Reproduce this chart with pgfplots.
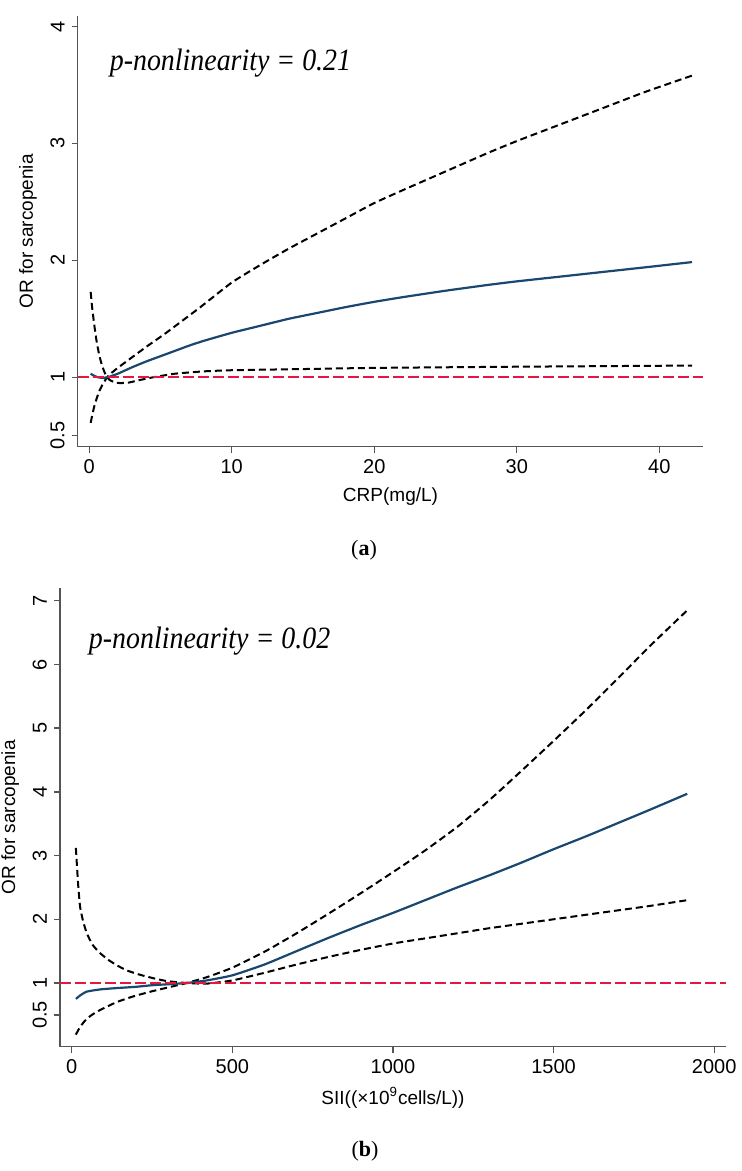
\documentclass[border=0pt]{standalone}
\usepackage{fontspec}
\setmainfont{Liberation Sans}
\newfontfamily\serifrm{Liberation Serif}
\usepackage{pgfplots}
\pgfplotsset{compat=1.18}
\definecolor{navy}{RGB}{26,71,111}
\definecolor{refred}{HTML}{E5173F}
\definecolor{axgray}{HTML}{555555}
\pgfplotsset{rcs/.style={scale only axis,axis lines=left,axis line style={-,axgray,line width=0.7pt},
tick style={axgray,line width=0.7pt},tick align=outside,major tick length=3pt,
yticklabel style={rotate=90,anchor=south},ticklabel style={font=\fontsize{10}{11}\selectfont},
label style={font=\fontsize{9.5}{11}\selectfont},/pgf/number format/assume math mode=true,
/pgf/number format/1000 sep={},clip=false}}
\tikzset{ci/.style={black,line width=1pt,dash pattern=on 3.5pt off 2pt,smooth,tension=0.3},
fit/.style={navy,line width=1.1pt,smooth,tension=0.3},
ref/.style={refred,line width=1pt,dash pattern=on 5.5pt off 2pt},
ptxt/.style={anchor=west,xscale=0.9,font=\serifrm\itshape\fontsize{15.5}{17}\selectfont}}
\begin{document}
\begin{tikzpicture}
\useasboundingbox (-30pt,-62.15pt) rectangle (340.5pt,523.35pt);
% (a) CRP
\begin{axis}[rcs,at={(8.85pt,300pt)},anchor=south west,width=312.8pt,height=215.35pt,
xmin=-0.81,xmax=43.09,ymin=0.406,ymax=4.09,xtick={0,10,20,30,40},ytick={0.5,1,2,3,4},
xlabel={CRP(mg/L)},ylabel={OR for sarcopenia}]
\addplot[ci] coordinates {(0.1,1.73) (0.2,1.60) (0.35,1.45) (0.5,1.32) (0.7,1.19) (0.9,1.10) (1.15,1.02) (1.4,0.98) (1.8,0.955) (2.2,0.95) (2.8,0.955) (3.5,0.975) (4.5,1.0) (6,1.03) (8,1.05) (10,1.06) (15,1.07) (20,1.08) (30,1.09) (42.3,1.10)};
\addplot[ci] coordinates {(0.1,0.61) (0.2,0.67) (0.35,0.75) (0.5,0.81) (0.7,0.88) (0.9,0.93) (1.15,0.98) (1.4,1.02) (2,1.08) (3,1.17) (4,1.26) (5.4,1.38) (7.8,1.60) (10,1.81) (12,1.96) (14,2.10) (16,2.23) (18,2.36) (20,2.49) (22,2.60) (25,2.76) (28,2.92) (30,3.02) (33,3.16) (36,3.30) (39,3.44) (42.3,3.58)};
\addplot[fit] coordinates {(0.1,1.03) (0.3,1.015) (0.6,1.0) (0.9,0.995) (1.3,1.0) (2,1.03) (3,1.085) (4,1.135) (5,1.18) (6,1.225) (7,1.27) (8,1.31) (10,1.38) (12,1.44) (14,1.50) (16,1.55) (18,1.60) (20,1.645) (22,1.685) (25,1.74) (28,1.79) (30,1.82) (33,1.86) (36,1.90) (39,1.94) (42.3,1.985)};
\addplot[ref] coordinates {(-0.81,1) (43.09,1)};
\node[ptxt] at (axis cs:1,3.69) {p-nonlinearity = 0.21};
\end{axis}
% (b) SII
\begin{axis}[rcs,at={(0pt,0pt)},anchor=south west,width=333pt,height=229.35pt,
xmin=-36.4,xmax=2036.6,ymin=0,ymax=7.2,xtick={0,500,1000,1500,2000},ytick={0.5,1,2,3,4,5,6,7},
xlabel={SII((×10\textsuperscript{9}cells/L))},ylabel={OR for sarcopenia}]
\addplot[ci] coordinates {(13,3.12) (20,2.55) (26,2.2) (35,1.98) (47,1.78) (65,1.60) (88,1.47) (115,1.36) (140,1.28) (170,1.20) (212,1.13) (250,1.08) (296,1.03) (358,1.0) (420,0.99) (500,1.04) (600,1.16) (700,1.29) (800,1.41) (900,1.52) (1000,1.62) (1100,1.70) (1200,1.78) (1300,1.86) (1400,1.93) (1500,2.00) (1600,2.07) (1700,2.14) (1800,2.21) (1916,2.30)};
\addplot[ci] coordinates {(13,0.19) (25,0.30) (40,0.40) (60,0.49) (90,0.58) (140,0.70) (192,0.79) (250,0.87) (300,0.93) (358,1.0) (420,1.09) (500,1.24) (600,1.49) (700,1.78) (800,2.09) (900,2.41) (1000,2.74) (1100,3.08) (1200,3.45) (1300,3.87) (1400,4.33) (1500,4.80) (1600,5.28) (1700,5.78) (1800,6.29) (1916,6.85)};
\addplot[fit] coordinates {(13,0.75) (25,0.80) (47,0.865) (90,0.90) (140,0.92) (200,0.94) (250,0.965) (300,0.98) (358,1.0) (420,1.04) (500,1.12) (600,1.29) (700,1.50) (800,1.71) (900,1.91) (1000,2.10) (1100,2.30) (1200,2.50) (1300,2.69) (1400,2.89) (1500,3.10) (1600,3.30) (1700,3.51) (1800,3.72) (1916,3.97)};
\addplot[ref] coordinates {(-36.4,1) (2036.6,1)};
\node[ptxt] at (axis cs:34,6.37) {p-nonlinearity = 0.02};
\end{axis}
\node[font=\serifrm\fontsize{11}{13}\selectfont] at (152pt,248pt) {(\textbf{a})};
\node[font=\serifrm\fontsize{11}{13}\selectfont] at (152.5pt,-52.5pt) {(\textbf{b})};
\end{tikzpicture}
\end{document}
